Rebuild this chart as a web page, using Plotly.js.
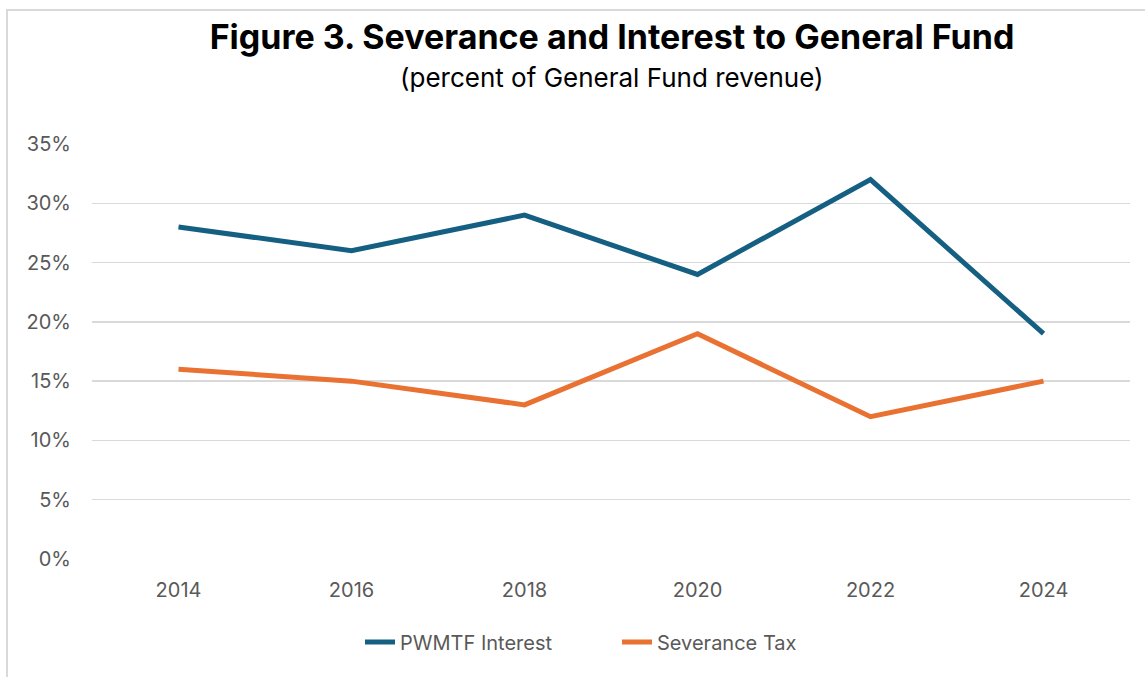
<!DOCTYPE html>
<html>
<head>
<meta charset="utf-8">
<script src="https://cdn.plot.ly/plotly-3.0.1.min.js"></script>
<style>
  html, body { margin: 0; padding: 0; background: #fff; }
  #wrap { position: relative; width: 1145px; height: 677px; overflow: hidden; }
  #chart { width: 1145px; height: 677px; }
  #frame { position: absolute; left: 6px; top: 9px; width: 1200px; height: 800px;
           border: 2px solid #d9d9d9; pointer-events: none; box-sizing: border-box; }
</style>
</head>
<body>
<div id="wrap">
  <div id="chart"></div>
  <div id="frame"></div>
</div>
<script>
const years = ['2014', '2016', '2018', '2020', '2022', '2024'];
const pwmtfInterest = [0.28, 0.26, 0.29, 0.24, 0.32, 0.19];
const severanceTax = [0.16, 0.15, 0.13, 0.19, 0.12, 0.15];
const seriesNames = ['PWMTF Interest', 'Severance Tax'];
const titleText = 'Figure 3. Severance and Interest to General Fund';
const subtitleText = '(percent of General Fund revenue)';

const FONT = 'Inter, "Open Sans", Arial, sans-serif';
const GRAY = '#595959';

const traces = [
  { x: years, y: pwmtfInterest, name: seriesNames[0], type: 'scatter', mode: 'lines',
    line: { color: '#156082', width: 5, shape: 'linear' }, cliponaxis: false },
  { x: years, y: severanceTax, name: seriesNames[1], type: 'scatter', mode: 'lines',
    line: { color: '#E97132', width: 5, shape: 'linear' }, cliponaxis: false }
];

const layout = {
  width: 1145, height: 677,
  margin: { l: 92, r: 15, t: 144, b: 118 },
  paper_bgcolor: 'rgba(0,0,0,0)', plot_bgcolor: '#fff',
  font: { family: FONT, color: GRAY, size: 20 },
  title: { text: '<b>' + titleText + '</b>', font: { family: FONT, size: 34, color: '#000' },
           x: 0.5345, xanchor: 'center', y: 1 - 37 / 677, yanchor: 'middle' },
  annotations: [{ text: subtitleText, xref: 'paper', yref: 'paper',
                  x: 0.501, y: (559 - 78) / 415, xanchor: 'center', yanchor: 'middle',
                  showarrow: false, font: { family: FONT, size: 26, color: '#000' } }],
  xaxis: { type: 'category', range: [-0.5, 5.5], showgrid: false, zeroline: false,
           showline: false, ticks: '', ticklabelstandoff: 17,
           tickfont: { family: FONT, size: 20, color: GRAY } },
  yaxis: { range: [0, 0.35], dtick: 0.05, tickformat: '.0%', showgrid: true,
           gridcolor: '#d9d9d9', gridwidth: 1.5, zeroline: false, showline: false,
           ticks: '', ticklabelstandoff: 20,
           tickfont: { family: FONT, size: 20, color: GRAY } },
  showlegend: true,
  legend: { orientation: 'h', x: (360 - 92) / 1038, xanchor: 'left', y: -0.2, yanchor: 'middle',
            font: { family: FONT, size: 20, color: GRAY },
            entrywidth: 212, entrywidthmode: 'pixels',
            bgcolor: 'rgba(0,0,0,0)' }
};

Plotly.newPlot('chart', traces, layout, { displayModeBar: false, staticPlot: true });
</script>
</body>
</html>
